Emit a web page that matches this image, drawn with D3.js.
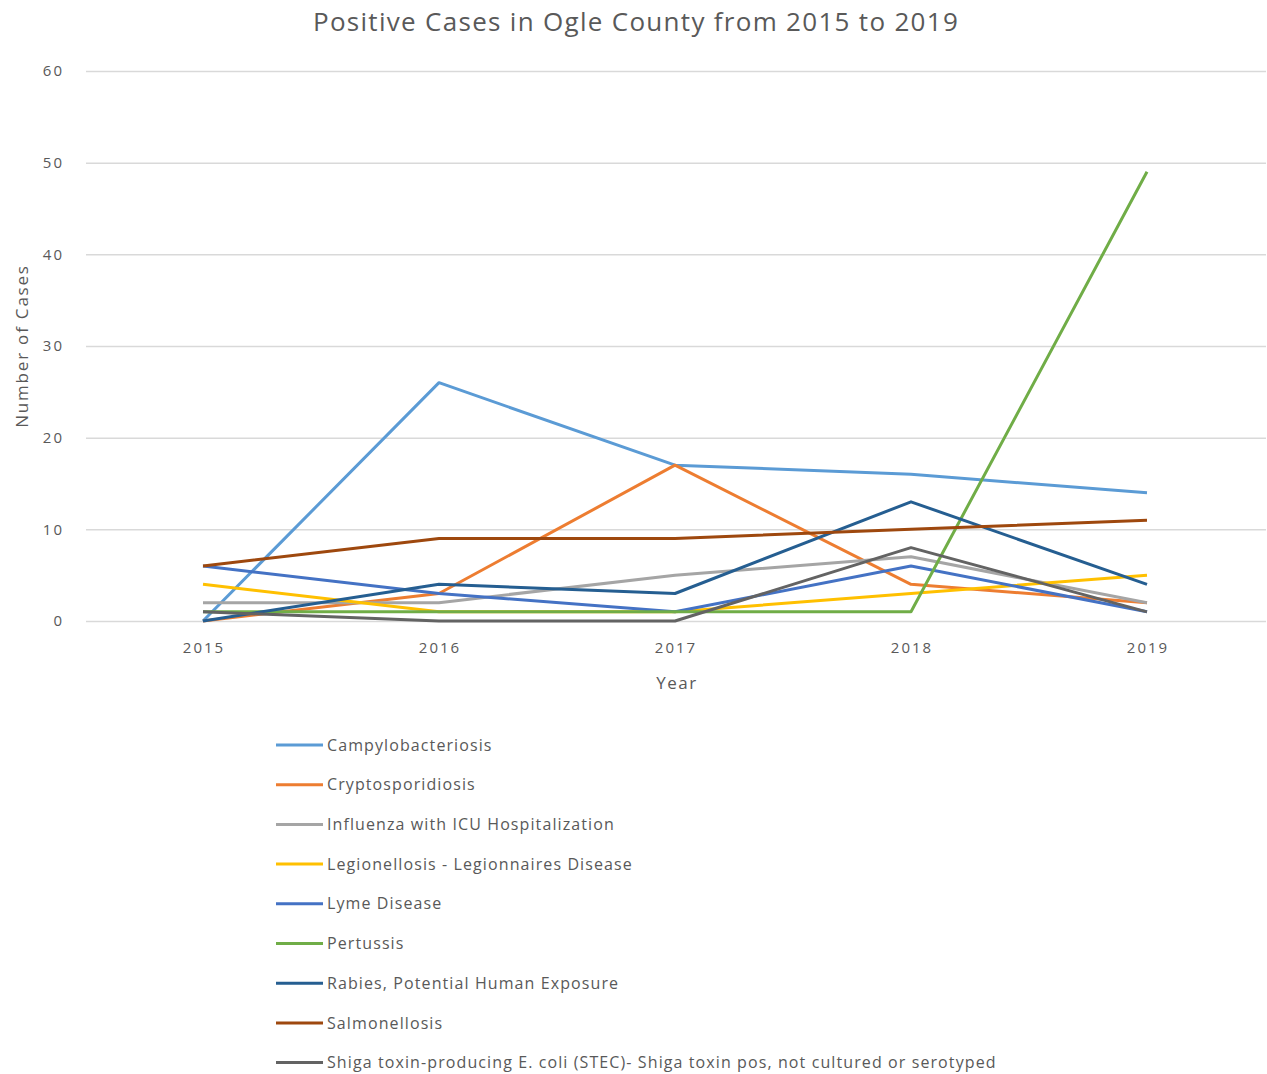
<!DOCTYPE html>
<html>
<head>
<meta charset="utf-8">
<script src="https://cdn.jsdelivr.net/npm/d3@7"></script>
<style>
  html, body { margin: 0; padding: 0; background: #fff; }
  svg { display: block; }
  text { font-family: "Open Sans", "Noto Sans", sans-serif; fill: #595959; }
</style>
</head>
<body>
<svg id="chart" width="1267" height="1074"></svg>
<script>
const years = ["2015", "2016", "2017", "2018", "2019"];
const seriesNames = [
  "Campylobacteriosis",
  "Cryptosporidiosis",
  "Influenza with ICU Hospitalization",
  "Legionellosis - Legionnaires Disease",
  "Lyme Disease",
  "Pertussis",
  "Rabies, Potential Human Exposure",
  "Salmonellosis",
  "Shiga toxin-producing E. coli (STEC)- Shiga toxin pos, not cultured or serotyped"
];
const campylobacteriosis = [0, 26, 17, 16, 14];
const cryptosporidiosis  = [0, 3, 17, 4, 2];
const influenza          = [2, 2, 5, 7, 2];
const legionellosis      = [4, 1, 1, 3, 5];
const lyme               = [6, 3, 1, 6, 1];
const pertussis          = [1, 1, 1, 1, 49];
const rabies             = [0, 4, 3, 13, 4];
const salmonellosis      = [6, 9, 9, 10, 11];
const shiga              = [1, 0, 0, 8, 1];
const yTicks = [0, 10, 20, 30, 40, 50, 60];
const colors = ["#5B9BD5", "#ED7D31", "#A5A5A5", "#FFC000", "#4472C4", "#70AD47", "#255E91", "#9E480E", "#636363"];

const seriesValues = [campylobacteriosis, cryptosporidiosis, influenza, legionellosis, lyme, pertussis, rabies, salmonellosis, shiga];
const series = seriesNames.map((n, i) => ({ name: n, values: seriesValues[i], color: colors[i] }));

const svg = d3.select("#chart");
const plot = { left: 86, right: 1266, top: 71, bottom: 621 };

const x = d3.scalePoint().domain(years).range([203, 1147]);
const y = d3.scaleLinear().domain([0, 60]).range([plot.bottom, plot.top]);

// gridlines
svg.append("g").selectAll("line").data(yTicks).join("line")
  .attr("x1", plot.left).attr("x2", plot.right)
  .attr("y1", d => y(d) + 0.5).attr("y2", d => y(d) + 0.5)
  .attr("stroke", "#d9d9d9").attr("stroke-width", 1.5);

// y tick labels
svg.append("g").selectAll("text").data(yTicks).join("text")
  .attr("x", 64).attr("y", d => y(d)).attr("dy", "0.35em")
  .attr("text-anchor", "end").attr("font-size", 15)
  .attr("letter-spacing", 2).text(d => d);

// x tick labels
svg.append("g").selectAll("text").data(years).join("text")
  .attr("x", d => x(d) + 1).attr("y", 648).attr("dy", "0.35em")
  .attr("text-anchor", "middle").attr("font-size", 15)
  .attr("letter-spacing", 2).text(d => d);

// title
svg.append("text").attr("x", 636).attr("y", 22).attr("dy", "0.35em")
  .attr("text-anchor", "middle").attr("font-size", 26)
  .attr("letter-spacing", 1.3)
  .text("Positive Cases in Ogle County from 2015 to 2019");

// axis titles
svg.append("text").attr("x", 677).attr("y", 683).attr("dy", "0.35em")
  .attr("text-anchor", "middle").attr("font-size", 17)
  .attr("letter-spacing", 1.5).text("Year");
svg.append("text").attr("transform", "translate(22,346) rotate(-90)")
  .attr("dy", "0.35em").attr("text-anchor", "middle").attr("font-size", 17)
  .attr("letter-spacing", 1.8).text("Number of Cases");

// lines
const line = d3.line().x((d, i) => x(years[i])).y(d => y(d));
svg.append("g").selectAll("path").data(series).join("path")
  .attr("d", d => line(d.values))
  .attr("fill", "none").attr("stroke", d => d.color)
  .attr("stroke-width", 3).attr("stroke-linejoin", "round");

// legend
const lg = svg.append("g");
const rowY = i => 745 + i * 39.7;
lg.selectAll("line").data(series).join("line")
  .attr("x1", 276).attr("x2", 323)
  .attr("y1", (d, i) => rowY(i)).attr("y2", (d, i) => rowY(i))
  .attr("stroke", d => d.color).attr("stroke-width", 3);
lg.selectAll("text").data(series).join("text")
  .attr("x", 327).attr("y", (d, i) => rowY(i)).attr("dy", "0.35em")
  .attr("font-size", 16).attr("letter-spacing", 1.1).text(d => d.name);
</script>
</body>
</html>
